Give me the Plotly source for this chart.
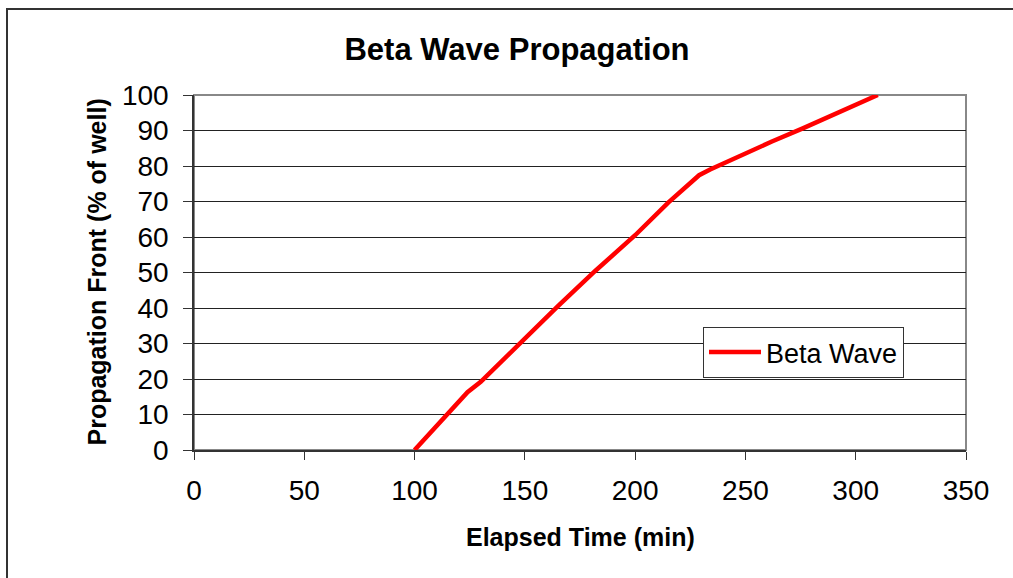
import plotly.graph_objects as go

# Data
elapsed_min = [100, 124, 130, 150, 165, 182, 200, 215, 229, 234, 250, 262, 276, 300, 310]
front_pct = [0, 16.3, 19.2, 31.5, 40.5, 50.5, 60.5, 69.7, 77.4, 79, 83.6, 86.9, 90.6, 97.2, 100]
series_name = "Beta Wave"
x_ticks = [0, 50, 100, 150, 200, 250, 300, 350]
y_ticks = [0, 10, 20, 30, 40, 50, 60, 70, 80, 90, 100]

FONT = "Liberation Sans, Arial, sans-serif"

fig = go.Figure()
fig.add_trace(go.Scatter(
    x=elapsed_min, y=front_pct, mode="lines", name=series_name,
    line=dict(color="#FF0000", width=4.5),
))

W, H = 1013, 578
L, R, T, B = 194, 47, 95, 128
pw, ph = W - L - R, H - T - B

def px_to_paper_x(px):
    return (px - L) / pw

def px_to_paper_y(py):
    return (H - B - py) / ph

fig.update_layout(
    width=W, height=H, autosize=False,
    margin=dict(l=L, r=R, t=T, b=B),
    paper_bgcolor="white", plot_bgcolor="white",
    font=dict(family=FONT, color="black"),
    title=dict(text="<b>Beta Wave Propagation</b>", font=dict(size=31, family=FONT, color="black"),
               xref="container", yref="container", x=517 / W, y=1 - 49 / H,
               xanchor="center", yanchor="middle"),
    showlegend=True,
    legend=dict(x=px_to_paper_x(703), y=px_to_paper_y(327), xanchor="left", yanchor="top",
                bgcolor="white", bordercolor="#333", borderwidth=1,
                font=dict(size=27, family=FONT, color="black"),
                tracegroupgap=0, itemwidth=52),
    xaxis=dict(range=[0, 350], tickvals=x_ticks, ticks="outside", ticklen=8, tickwidth=1,
               tickcolor="#333", showline=True, linecolor="#333", linewidth=1.5,
               showgrid=False, zeroline=False, tickfont=dict(size=28, family=FONT),
               ticklabelstandoff=7),
    yaxis=dict(range=[0, 100], tickvals=y_ticks, ticks="outside", ticklen=9, tickwidth=1,
               tickcolor="#333", showline=True, linecolor="#333", linewidth=1.5,
               showgrid=True, gridcolor="#222", gridwidth=1, zeroline=False,
               tickfont=dict(size=28, family=FONT), ticklabelstandoff=9),
    annotations=[
        dict(text="<b>Elapsed Time (min)</b>", xref="paper", yref="paper",
             x=0.5, y=px_to_paper_y(537), xanchor="center", yanchor="middle",
             showarrow=False, font=dict(size=25, family=FONT, color="black")),
        dict(text="<b>Propagation Front (% of well)</b>", xref="paper", yref="paper",
             x=px_to_paper_x(96), y=0.5, xanchor="center", yanchor="middle", textangle=-90,
             showarrow=False, font=dict(size=25, family=FONT, color="black")),
    ],
    shapes=[
        # plot-area border (gray top/right)
        dict(type="rect", xref="paper", yref="paper", x0=0, x1=1, y0=0, y1=1,
             line=dict(color="#888", width=2), layer="below"),
        # outer chart border (only top/left visible)
        dict(type="rect", xref="paper", yref="paper",
             x0=px_to_paper_x(7), x1=px_to_paper_x(1030),
             y0=px_to_paper_y(600), y1=px_to_paper_y(9),
             line=dict(color="#333", width=2), layer="above"),
    ],
)

fig.write_html("out.html")
